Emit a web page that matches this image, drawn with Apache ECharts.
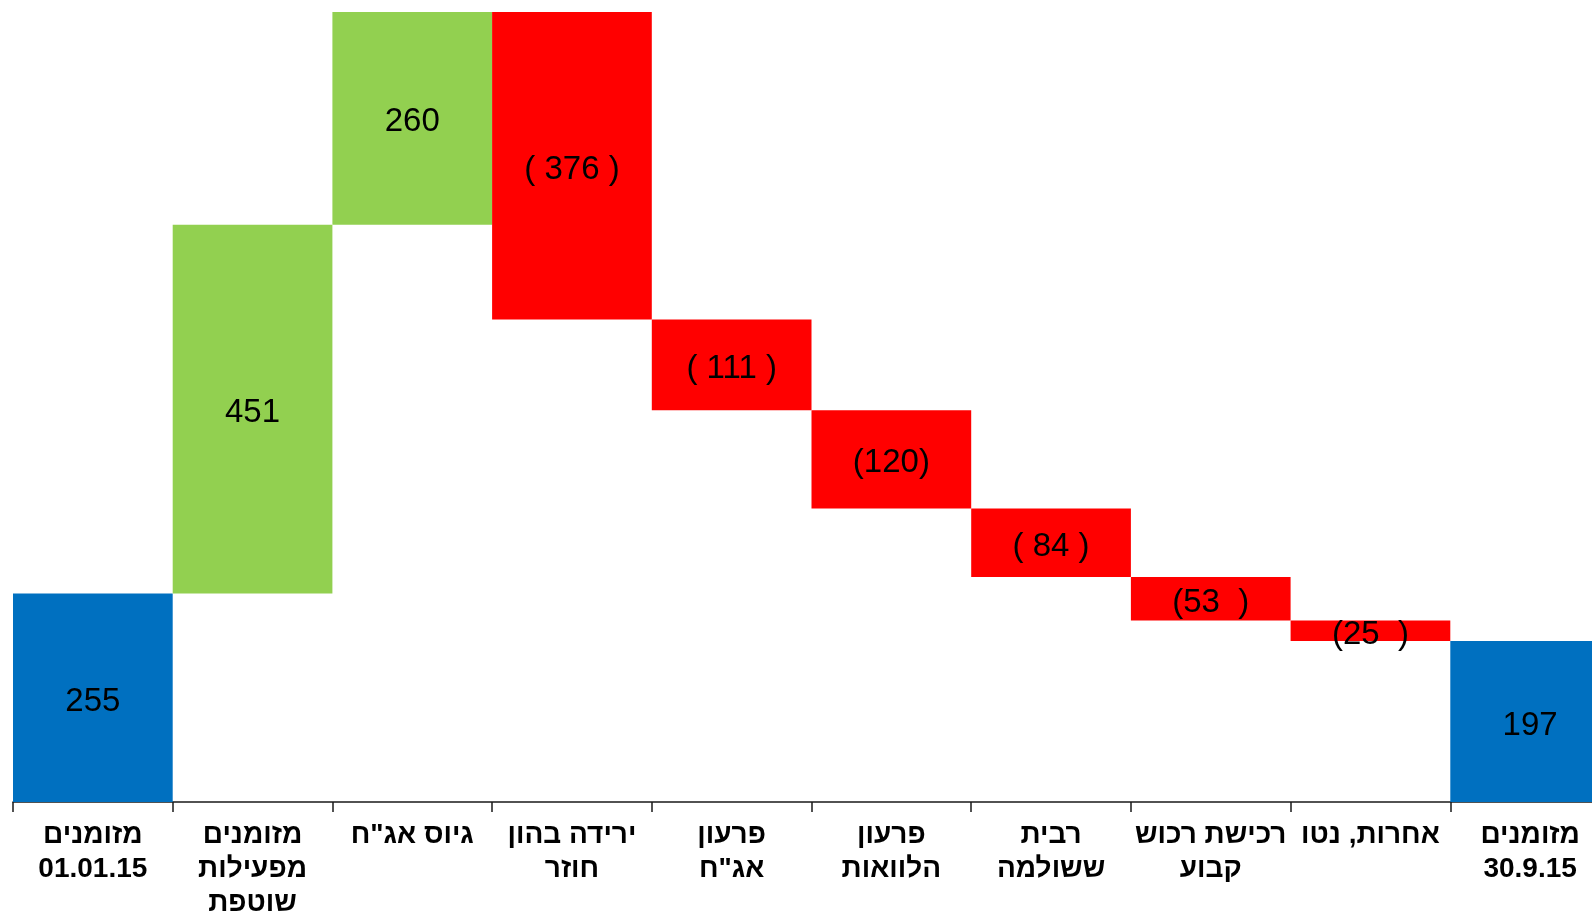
<!DOCTYPE html>
<html>
<head>
<meta charset="utf-8">
<script src="https://cdn.jsdelivr.net/npm/echarts@6/dist/echarts.min.js"></script>
<style>
html,body{margin:0;padding:0;background:#fff;}
#chart{width:1592px;height:912px;}
</style>
</head>
<body>
<div id="chart"></div>
<script>
const categories = [
  'מזומנים\n01.01.15',
  'מזומנים\nמפעילות\nשוטפת',
  'גיוס אג"ח',
  'ירידה בהון\nחוזר',
  'פרעון\nאג"ח',
  'פרעון\nהלוואות',
  'רבית\nששולמה',
  'רכישת רכוש\nקבוע',
  'אחרות, נטו',
  'מזומנים\n30.9.15'
];
const values = [255, 451, 260, -376, -111, -120, -84, -53, -25, 197];
const kinds = ['total', 'inc', 'inc', 'dec', 'dec', 'dec', 'dec', 'dec', 'dec', 'total'];
const valueLabels = ['255', '451', '260', '( 376 )', '( 111 )', '(120)', '( 84 )', '(53  )', '(25  )', '197'];

const colors = { total: '#0070C0', inc: '#92D050', dec: '#FF0000' };

const base = [];
const height = [];
let running = 0;
for (let i = 0; i < values.length; i++) {
  const v = values[i];
  if (kinds[i] === 'total') {
    base.push(0);
    height.push(v);
    running = v;
  } else if (v >= 0) {
    base.push(running);
    height.push(v);
    running += v;
  } else {
    running += v;
    base.push(running);
    height.push(-v);
  }
}
let peak = 0;
for (let i = 0; i < values.length; i++) peak = Math.max(peak, base[i] + height[i]);

const chart = echarts.init(document.getElementById('chart'));
chart.setOption({
  animation: false,
  backgroundColor: '#ffffff',
  grid: { left: 13, top: 12, bottom: 110, width: 1597, containLabel: false, outerBoundsMode: 'none' },
  xAxis: {
    type: 'category',
    data: categories,
    axisLine: { show: true, lineStyle: { color: '#1a1a1a', width: 1.5 } },
    axisTick: { show: true, length: 10, lineStyle: { color: '#1a1a1a', width: 1.5 } },
    axisLabel: {
      interval: 0,
      margin: 16,
      color: '#000',
      fontFamily: 'Liberation Sans, Arial, sans-serif',
      fontWeight: 'bold',
      fontSize: 28,
      lineHeight: 34
    }
  },
  yAxis: {
    type: 'value',
    min: 0,
    max: peak,
    show: false,
    splitLine: { show: false }
  },
  series: [
    {
      type: 'bar',
      stack: 'wf',
      data: base,
      itemStyle: { color: 'transparent' },
      barCategoryGap: 0,
      barWidth: '100%',
      silent: true
    },
    {
      type: 'bar',
      stack: 'wf',
      barCategoryGap: 0,
      barWidth: '100%',
      data: height.map((h, i) => ({
        value: h,
        itemStyle: { color: colors[kinds[i]] },
        label: { formatter: valueLabels[i] }
      })),
      label: {
        show: true,
        position: 'inside',
        color: '#000',
        fontFamily: 'Liberation Sans, Arial, sans-serif',
        fontSize: 33,
        offset: [0, 4]
      }
    }
  ]
});
</script>
</body>
</html>
